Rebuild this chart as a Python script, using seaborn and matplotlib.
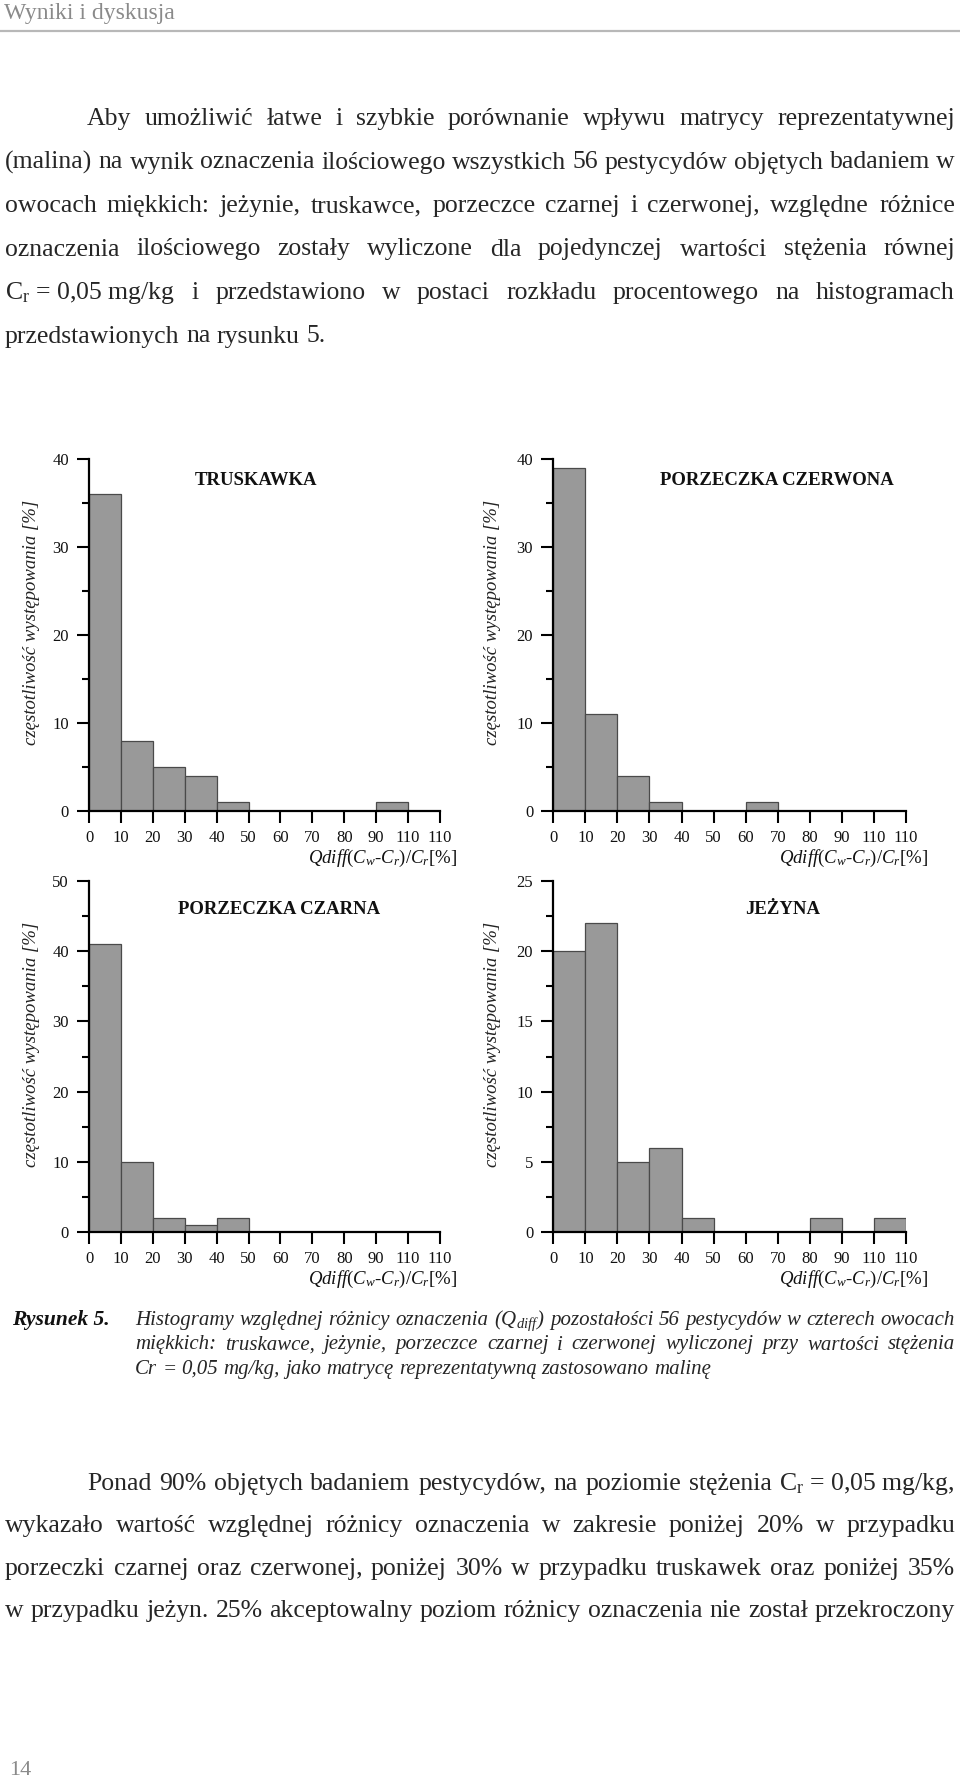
import numpy as np
import pandas as pd
import matplotlib
matplotlib.use("Agg")
import matplotlib.pyplot as plt
from matplotlib.ticker import MultipleLocator
from matplotlib.lines import Line2D
import seaborn as sns

# ---------------- data ----------------
bin_edges = [0, 10, 20, 30, 40, 50, 60, 70, 80, 90, 100, 110]
x_tick_labels = ["0", "10", "20", "30", "40", "50", "60", "70", "80", "90", "110", "110"]
truskawka = [36, 8, 5, 4, 1, 0, 0, 0, 0, 1, 0]
porzeczka_czerwona = [39, 11, 4, 1, 0, 0, 1, 0, 0, 0, 0]
porzeczka_czarna = [41, 10, 2, 1, 2, 0, 0, 0, 0, 0, 0]
jezyna = [20, 22, 5, 6, 1, 0, 0, 0, 1, 0, 1]
panel_titles = ["TRUSKAWKA", "PORZECZKA CZERWONA", "PORZECZKA CZARNA", "JEŻYNA"]
y_max = [40, 40, 50, 25]
y_major = [10, 10, 10, 5]
y_label = "częstotliwość występowania [%]"
x_label = r"$Qdiff(C_{w}$-$C_{r})/C_{r}[\%]$"

header_text = "Wyniki i dyskusja"
page_number = "14"
para1 = [
    "Aby umożliwić łatwe i szybkie porównanie wpływu matrycy reprezentatywnej",
    "(malina) na wynik oznaczenia ilościowego wszystkich 56 pestycydów objętych badaniem w",
    "owocach miękkich: jeżynie, truskawce, porzeczce czarnej i czerwonej, względne różnice",
    "oznaczenia ilościowego zostały wyliczone dla pojedynczej wartości stężenia równej",
    r"C$_{\mathrm{r}}$~=~0,05~mg/kg i przedstawiono w postaci rozkładu procentowego na histogramach",
    "przedstawionych na rysunku 5.",
]
caption_label = "Rysunek 5."
caption = [
    r"Histogramy względnej różnicy oznaczenia ($Q_{diff}$) pozostałości 56 pestycydów w czterech owocach",
    "miękkich: truskawce, jeżynie, porzeczce czarnej i czerwonej wyliczonej przy wartości stężenia",
    "Cr = 0,05 mg/kg, jako matrycę reprezentatywną zastosowano malinę",
]
para2 = [
    r"Ponad 90% objętych badaniem pestycydów, na poziomie stężenia C$_{\mathrm{r}}$~=~0,05~mg/kg,",
    "wykazało wartość względnej różnicy oznaczenia w zakresie poniżej 20% w przypadku",
    "porzeczki czarnej oraz czerwonej, poniżej 30% w przypadku truskawek oraz poniżej 35%",
    "w przypadku jeżyn. 25% akceptowalny poziom różnicy oznaczenia nie został przekroczony",
]

# ---------------- style ----------------
sns.set_theme(style="ticks")
plt.rcParams["font.family"] = ["Liberation Serif", "DejaVu Serif"]
plt.rcParams["mathtext.fontset"] = "custom"
plt.rcParams["mathtext.rm"] = "Liberation Serif"
plt.rcParams["mathtext.it"] = "Liberation Serif:italic"
plt.rcParams["mathtext.bf"] = "Liberation Serif:bold"

W, H = 960, 1778
fig = plt.figure(figsize=(W / 100, H / 100), dpi=100)
fig.patch.set_facecolor("white")
renderer = fig.canvas.get_renderer()


def measure(s, **kw):
    t = fig.text(0, 0, s.replace("~", " "), **kw)
    w = t.get_window_extent(renderer).width
    t.remove()
    return w


def natural_width(line, **kw):
    words = line.split(" ")
    space = 0.25 * kw["fontsize"] * 100 / 72
    return sum(measure(w, **kw) for w in words) + space * (len(words) - 1)


def put_line(line, x0, x1, yb, justify=True, **kw):
    words = [w.replace("~", " ") for w in line.split(" ")]
    widths = [measure(w, **kw) for w in words]
    space = 0.25 * kw["fontsize"] * 100 / 72
    if justify and len(words) > 1:
        gap = (x1 - x0 - sum(widths)) / (len(words) - 1)
    else:
        gap = space
    x = x0
    for w, wd in zip(words, widths):
        fig.text(x / W, 1 - yb / H, w, ha="left", va="baseline", **kw)
        x += wd + gap


# font sizes fitted to reference line widths
body_size = 10 * 944 / natural_width(para1[1], fontsize=10)
cap_size = 10 * 816 / natural_width(caption[0], fontsize=10, style="italic")
body_size = round(min(max(body_size, 14), 19) * 2) / 2
cap_size = round(min(max(cap_size, 11), 15) * 2) / 2

# header
fig.text(4 / W, 1 - 19 / H, header_text, ha="left", va="baseline",
         fontsize=17, color="#8a8a8a")
fig.add_artist(Line2D([0, 1], [1 - 31 / H, 1 - 31 / H], transform=fig.transFigure,
                      color="#b8b8b8", lw=1.6))

# paragraph 1
L, R = 5, 955
base1 = [125, 168.5, 212, 255.5, 299, 342.5]
for i, line in enumerate(para1):
    x0 = 87 if i == 0 else L
    put_line(line, x0, R, base1[i], justify=(i < len(para1) - 1), fontsize=body_size)

# ---------------- histograms ----------------
panels_px = [(89, 440, 459.3, 811), (553.3, 906, 459.3, 811),
             (89, 440, 880.7, 1232.3), (553.3, 906, 880.7, 1232.3)]
title_pos = [(0.476, 0.941), (0.634, 0.941), (0.541, 0.917), (0.651, 0.917)]
ylab_x = [-0.14, -0.148, -0.14, -0.148]
xlab_x = [1.05, 1.062, 1.05, 1.062]
series = [truskawka, porzeczka_czerwona, porzeczka_czarna, jezyna]
edges = np.array(bin_edges, dtype=float)
centers = (edges[:-1] + edges[1:]) / 2

for i, vals in enumerate(series):
    l, r, t, b = panels_px[i]
    ax = fig.add_axes([l / W, 1 - b / H, (r - l) / W, (b - t) / H])
    ax.set_facecolor("white")
    df = pd.DataFrame({"q": centers, "pct": vals})
    sns.histplot(data=df, x="q", weights="pct", bins=bin_edges, ax=ax,
                 color="#999999", edgecolor="#4a4a4a", linewidth=0.9, alpha=1)
    ax.set_xlim(0, 110)
    ax.set_ylim(0, y_max[i])
    ax.set_xticks(bin_edges)
    ax.set_xticklabels(x_tick_labels)
    ax.yaxis.set_major_locator(MultipleLocator(y_major[i]))
    ax.yaxis.set_minor_locator(MultipleLocator(y_major[i] / 2))
    ax.tick_params(axis="x", which="major", direction="out", length=8.5, width=1.5,
                   labelsize=12, pad=5, color="black", labelcolor="#111111")
    ax.tick_params(axis="y", which="major", direction="out", length=8.5, width=1.5,
                   labelsize=12, pad=6, color="black", labelcolor="#111111")
    ax.tick_params(axis="y", which="minor", direction="out", length=5, width=1.5,
                   color="black")
    ax.tick_params(axis="x", which="minor", length=0)
    sns.despine(ax=ax)
    for s in ["left", "bottom"]:
        ax.spines[s].set_linewidth(1.6)
        ax.spines[s].set_color("black")
    ax.grid(False)
    ax.text(title_pos[i][0], title_pos[i][1], panel_titles[i], transform=ax.transAxes,
            ha="center", va="center", fontsize=13.5, fontweight="bold", color="#111111")
    ax.set_ylabel(y_label, fontsize=13.5, style="italic", color="#222222")
    ax.yaxis.set_label_coords(ylab_x[i], 0.535)
    ax.set_xlabel(x_label, fontsize=13.5, style="italic", color="#111111")
    ax.xaxis.set_label_coords(xlab_x[i], -0.135)
    ax.xaxis.label.set_ha("right")
    ax.xaxis.label.set_va("center")

# ---------------- caption ----------------
cap_base = [1325, 1349.5, 1374]
fig.text(12 / W, 1 - cap_base[0] / H, caption_label, ha="left", va="baseline",
         fontsize=cap_size + 0.5, fontweight="bold", style="italic", color="#111111")
for i, line in enumerate(caption):
    put_line(line, 135, 955, cap_base[i], justify=(i < len(caption) - 1),
             fontsize=cap_size, style="italic")

# paragraph 2
base2 = [1490, 1532.3, 1574.6, 1617]
for i, line in enumerate(para2):
    x0 = 87 if i == 0 else L
    put_line(line, x0, R, base2[i], justify=True, fontsize=body_size)

# page number
fig.text(9 / W, 1 - 1775 / H, page_number, ha="left", va="baseline",
         fontsize=16, color="#8a8a8a")

fig.savefig("out.png", dpi=100, facecolor="white")
